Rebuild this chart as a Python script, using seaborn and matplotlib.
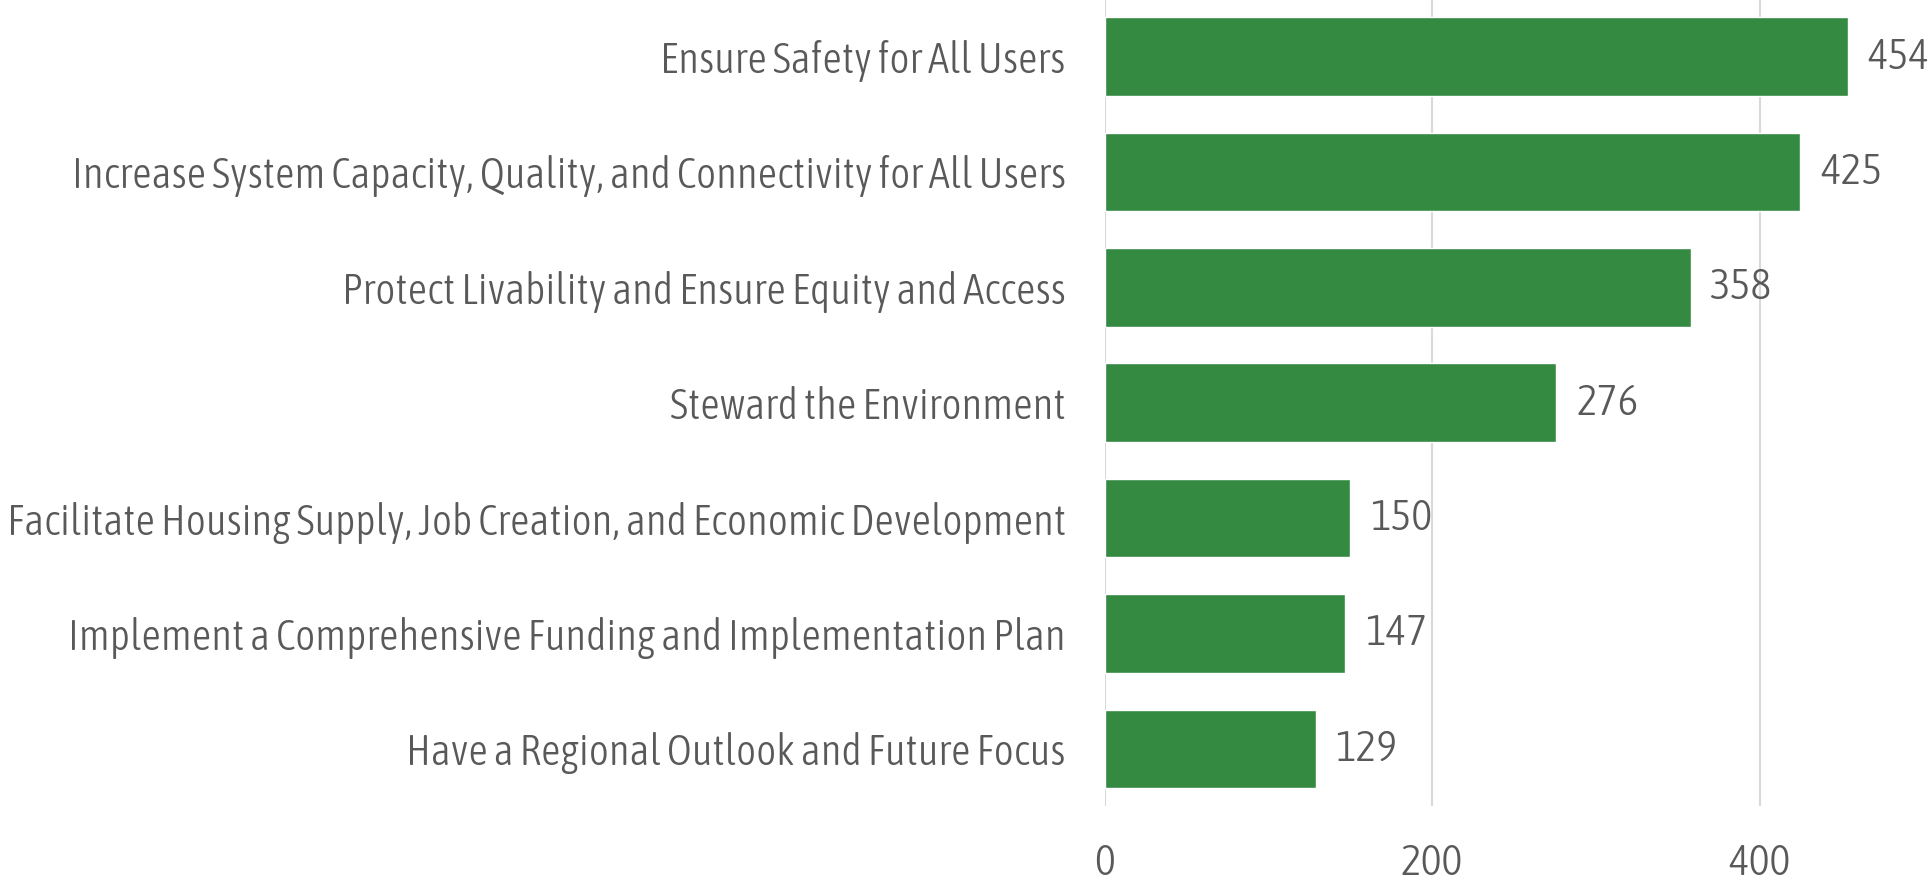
import matplotlib
matplotlib.use("Agg")
import matplotlib.pyplot as plt
import seaborn as sns
import pandas as pd
from matplotlib import font_manager
from matplotlib.font_manager import FontProperties

categories = [
    "Ensure Safety for All Users",
    "Increase System Capacity, Quality, and Connectivity for All Users",
    "Protect Livability and Ensure Equity and Access",
    "Steward the Environment",
    "Facilitate Housing Supply, Job Creation, and Economic Development",
    "Implement a Comprehensive Funding and Implementation Plan",
    "Have a Regional Outlook and Future Focus",
]
values = [454, 425, 358, 276, 150, 147, 129]
x_ticks = [0, 200, 400]

sns.set_theme(style="white")


def _w(e):
    w = e.weight
    if isinstance(w, str):
        w = font_manager.weight_dict.get(w, 400)
    return w


cands = [e for e in font_manager.fontManager.ttflist
         if ("Condensed" in e.name or "Narrow" in e.name or "Condensed" in e.fname)
         and e.style == "normal"]
cands.sort(key=lambda e: (abs(_w(e) - 300), e.fname))
if cands and _w(cands[0]) <= 500:
    fp_path = cands[0].fname
    fam = cands[0].name
    wt = _w(cands[0])
else:
    fp_path = None
    fam = "Open Sans"
    wt = 300

plt.rcParams["font.family"] = [fam, "DejaVu Sans"]


def fprops(size):
    if fp_path:
        return FontProperties(fname=fp_path, size=size)
    return FontProperties(family=[fam, "DejaVu Sans"], weight=wt, size=size)


df = pd.DataFrame({"cat": categories, "val": values})

fig = plt.figure(figsize=(19.31, 8.88), dpi=100)
ax = fig.add_axes([0.572, 0.0923, 0.424, 0.9077])

renderer = fig.canvas.get_renderer()
w = 0
for c in categories:
    probe = fig.text(0, 0, c, fontproperties=fprops(29))
    w = max(w, probe.get_window_extent(renderer).width)
    probe.remove()
lab_size = min(33, 29 * 1056 / w)

sns.barplot(data=df, x="val", y="cat", color="#358A42", saturation=1, width=0.68, ax=ax, zorder=3)
ax.set_xlim(0, 500)
ax.set_ylim(6.496, -0.49)
ax.set_xticks(x_ticks)
ax.set_xticklabels([str(t) for t in x_ticks])
ax.xaxis.grid(True, color="#d9d9d9", linewidth=1.5, zorder=0)
ax.yaxis.grid(False)
for s in ax.spines.values():
    s.set_visible(False)
ax.set_xlabel("")
ax.set_ylabel("")
ax.tick_params(axis="x", length=0, pad=26, labelcolor="#595959")
ax.tick_params(axis="y", length=0, pad=28, labelcolor="#595959")
for t in ax.get_xticklabels():
    t.set_fontproperties(fprops(lab_size + 1))
for t in ax.get_yticklabels():
    t.set_fontproperties(fprops(lab_size))
for i, v in enumerate(values):
    ax.text(v + 12, i, str(v), va="center", ha="left", color="#595959",
            fontproperties=fprops(lab_size + 1))

fig.savefig("out.png", dpi=100)
